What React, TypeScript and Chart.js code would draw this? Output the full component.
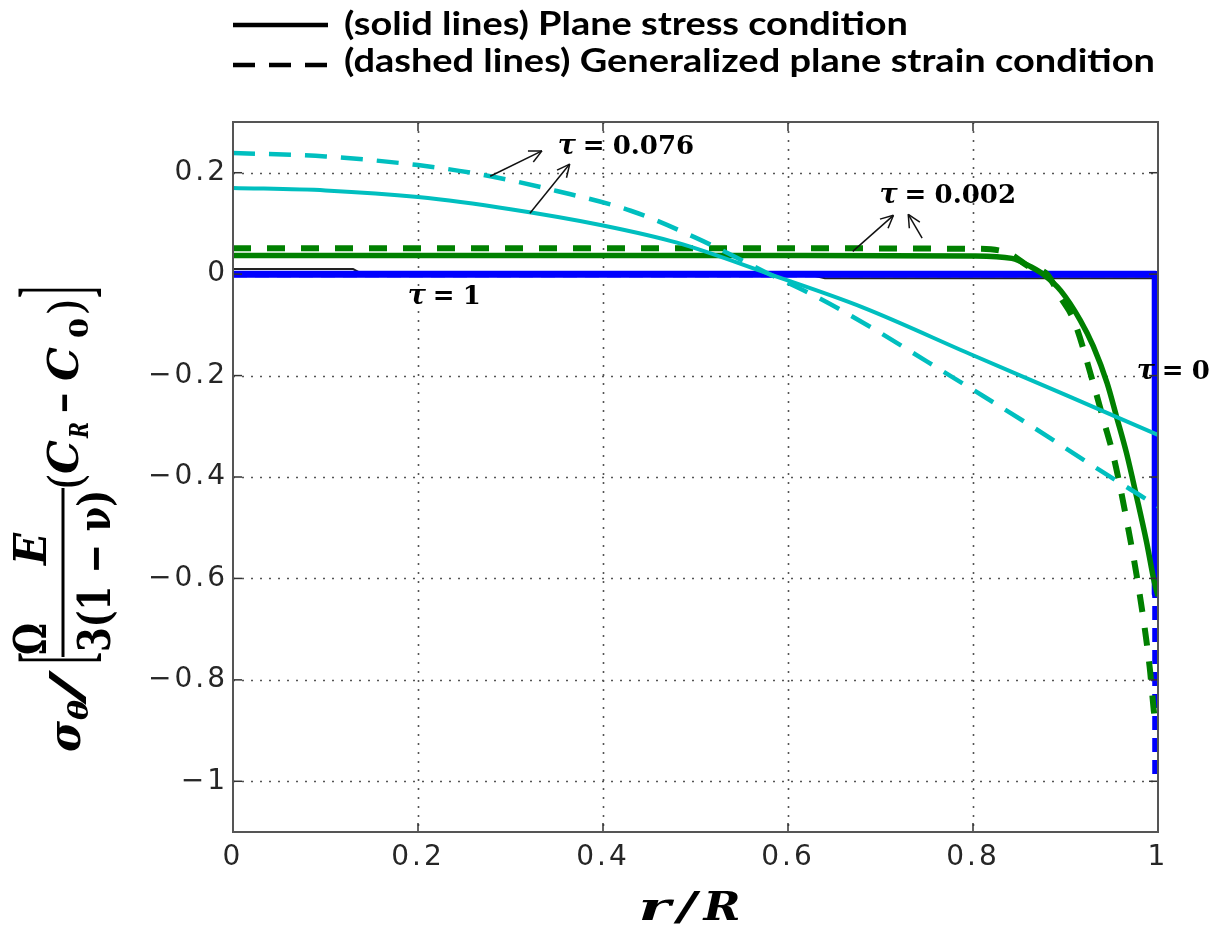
import React, { useEffect, useRef } from "react";
import { Chart, registerables } from "chart.js";

Chart.register(...registerables);

// ---------- data ----------
const xTicks = [0, 0.2, 0.4, 0.6, 0.8, 1];
const yTicks = [0.2, 0, -0.2, -0.4, -0.6, -0.8, -1];

// tau = 0.076, plane stress (solid cyan)
const cyanSolidX = [0, 0.1, 0.2, 0.3, 0.4, 0.48, 0.58, 0.68, 0.8, 0.9, 1.0];
const cyanSolidY = [0.17, 0.165, 0.152, 0.128, 0.096, 0.062, 0.0, -0.065, -0.16, -0.238, -0.317];

// tau = 0.076, generalized plane strain (dashed cyan)
const cyanDashX = [0, 0.1, 0.2, 0.27, 0.35, 0.43, 0.5, 0.58, 0.63, 0.69, 0.75, 0.8, 0.86, 0.94, 1.0];
const cyanDashY = [0.239, 0.232, 0.215, 0.196, 0.164, 0.125, 0.072, 0.0, -0.044, -0.105, -0.172, -0.228, -0.296, -0.39, -0.458];

// tau = 0.002, plane stress (solid green)
const greenSolidX = [0, 0.2, 0.4, 0.6, 0.8, 0.842, 0.863, 0.877, 0.895, 0.916, 0.93, 0.945, 0.955, 0.966, 0.977, 0.9875, 0.996, 1.0];
const greenSolidY = [0.037, 0.037, 0.037, 0.037, 0.036, 0.031, 0.014, -0.002, -0.033, -0.091, -0.142, -0.215, -0.28, -0.353, -0.44, -0.527, -0.607, -0.635];

// tau = 0.002, generalized plane strain (dashed green)
const greenDashX = [0, 0.2, 0.4, 0.6, 0.8, 0.835, 0.863, 0.88, 0.895, 0.909, 0.93, 0.941, 0.952, 0.966, 0.98, 0.991, 0.996, 0.998];
const greenDashY = [0.051, 0.051, 0.051, 0.051, 0.05, 0.044, 0.012, 0.0, -0.047, -0.091, -0.215, -0.287, -0.36, -0.484, -0.629, -0.775, -0.869, -0.89];

// tau = 0 (blue)
const blueSolidX = [0, 0.997, 0.997];
const blueSolidY = [0, 0, -0.63];
const blueDashX = [0, 0.997, 0.997];
const blueDashY = [0, 0, -1.0];

// tau = 1 (black)
const blackX = [0, 0.13, 0.14, 0.62, 0.64, 1.0];
const blackY = [0.01, 0.01, 0.0, 0.0, -0.008, -0.008];

// annotations (data coordinates)
const tauValues = ["0.076", "0.002", "1", "0"];
const tauX = [0.351, 0.699, 0.189, 0.977];
const tauY = [0.254, 0.158, -0.041, -0.189];

const arrowFromX = [0.278, 0.321, 0.67, 0.745];
const arrowFromY = [0.193, 0.12, 0.045, 0.071];
const arrowToX = [0.334, 0.364, 0.714, 0.73];
const arrowToY = [0.243, 0.217, 0.116, 0.118];

const legendLabels = [
  "(solid lines) Plane stress condition",
  "(dashed lines) Generalized plane strain condition",
];

// ---------- layout / style ----------
const W = 1228;
const H = 945;
const CYAN = "#00BFBF";
const GREEN = "#008000";
const BLUE = "#0000FF";
const SERIF = "'DejaVu Serif', serif";

const pts = (xs: number[], ys: number[]) => xs.map((x, i) => ({ x, y: ys[i] }));

const fmt = (v: any) => {
  const n = Number(v);
  const s = (a: number) => String(Math.round(a * 10) / 10);
  return n < 0 ? "\u2212" + s(-n) : s(n);
};

function seg(ctx: CanvasRenderingContext2D, x1: number, y1: number, x2: number, y2: number) {
  ctx.beginPath();
  ctx.moveTo(x1, y1);
  ctx.lineTo(x2, y2);
  ctx.stroke();
}

function fitText(ctx: CanvasRenderingContext2D, text: string, font: string, x: number, y: number, width: number) {
  ctx.save();
  ctx.font = font;
  const w = ctx.measureText(text).width;
  ctx.translate(x, y);
  ctx.scale(width / w, 1);
  ctx.fillText(text, 0, 0);
  ctx.restore();
}

function rotFit(ctx: CanvasRenderingContext2D, text: string, font: string, yBottom: number, yTop: number, baseX: number) {
  ctx.save();
  ctx.font = font;
  const w = ctx.measureText(text).width;
  ctx.translate(baseX, yBottom);
  ctx.rotate(-Math.PI / 2);
  ctx.scale((yBottom - yTop) / w, 1);
  ctx.fillText(text, 0, 0);
  ctx.restore();
}

// y-axis title pieces: text, font, bottom y, top y, baseline x
const yTitlePieces: [string, string, number, number, number][] = [
  ["σ", `italic bold 44px ${SERIF}`, 752, 721, 80],
  ["θ", `italic bold 28px ${SERIF}`, 720, 700, 88],
  ["/", `44px ${SERIF}`, 705, 670, 82],
  ["[", `100px 'Liberation Serif', serif`, 664, 652, 88],
  ["Ω", `bold 44px ${SERIF}`, 655, 623, 46],
  ["E", `italic bold 44px ${SERIF}`, 565, 533, 46],
  ["3(1 − ν)", `bold 44px ${SERIF}`, 652, 490, 110],
  ["(", `46px ${SERIF}`, 490, 473, 82],
  ["C", `italic bold 42px ${SERIF}`, 474, 440, 78],
  ["R", `italic bold 26px ${SERIF}`, 438, 422, 88],
  ["−", `bold 42px ${SERIF}`, 414, 392, 78],
  ["C", `italic bold 42px ${SERIF}`, 381, 347, 78],
  ["0", `bold 26px ${SERIF}`, 338, 318, 88],
  [")", `46px ${SERIF}`, 316, 298, 82],
  ["]", `100px 'Liberation Serif', serif`, 298, 286, 88],
];

const decorPlugin = {
  id: "decor",
  beforeDraw(chart: any) {
    chart.ctx.letterSpacing = "3px";
  },
  beforeDatasetsDraw(chart: any) {
    const ctx: CanvasRenderingContext2D = chart.ctx;
    (ctx as any).letterSpacing = "0px";
    const { left, right, top, bottom } = chart.chartArea;
    const xs = chart.scales.x;
    const ys = chart.scales.y;
    ctx.save();
    ctx.strokeStyle = "#555";
    ctx.lineWidth = 1.6;
    ctx.setLineDash([2, 7]);
    xTicks.forEach((v) => {
      if (v === xTicks[0] || v === xTicks[xTicks.length - 1]) return;
      const px = Math.round(xs.getPixelForValue(v)) + 0.5;
      seg(ctx, px, top, px, bottom);
    });
    yTicks.forEach((v) => {
      const py = Math.round(ys.getPixelForValue(v)) + 0.5;
      seg(ctx, left, py, right, py);
    });
    ctx.restore();
  },
  afterDatasetsDraw(chart: any) {
    const ctx: CanvasRenderingContext2D = chart.ctx;
    const { left, right, top, bottom } = chart.chartArea;
    const xs = chart.scales.x;
    const ys = chart.scales.y;
    ctx.save();
    ctx.setLineDash([]);
    ctx.strokeStyle = "#333";
    ctx.lineWidth = 1.5;
    const tl = 9;
    xTicks.forEach((v) => {
      const px = xs.getPixelForValue(v);
      seg(ctx, px, bottom, px, bottom - tl);
      seg(ctx, px, top, px, top + tl);
    });
    yTicks.forEach((v) => {
      const py = ys.getPixelForValue(v);
      seg(ctx, left, py, left + tl, py);
      seg(ctx, right, py, right - tl, py);
    });
    ctx.strokeStyle = "#555";
    ctx.lineWidth = 2;
    ctx.strokeRect(left, top, right - left, bottom - top);
    ctx.restore();
  },
  afterDraw(chart: any) {
    const ctx: CanvasRenderingContext2D = chart.ctx;
    (ctx as any).letterSpacing = "0px";
    const { left, right } = chart.chartArea;
    const xs = chart.scales.x;
    const ys = chart.scales.y;
    ctx.save();
    ctx.fillStyle = "#000";
    ctx.strokeStyle = "#000";
    ctx.textBaseline = "alphabetic";
    ctx.textAlign = "left";

    // legend (top)
    ctx.lineWidth = 4.5;
    ctx.setLineDash([]);
    seg(ctx, 233, 25, 328, 25);
    ctx.setLineDash([22, 14]);
    seg(ctx, 233, 65, 328, 65);
    ctx.setLineDash([]);
    fitText(ctx, legendLabels[0], "bold 33px Lato, sans-serif", 344, 35, 564);
    fitText(ctx, legendLabels[1], "bold 33px Lato, sans-serif", 344, 72, 811);

    // x-axis title
    const cx = (left + right) / 2;
    fitText(ctx, "r", `italic bold 40px ${SERIF}`, cx - 57, 920, 32);
    fitText(ctx, "/", `40px ${SERIF}`, cx - 22, 920, 27);
    fitText(ctx, "R", `italic bold 40px ${SERIF}`, cx + 8, 920, 37);

    // y-axis title
    yTitlePieces.forEach(([t, f, yb, yt, bx]) => rotFit(ctx, t, f, yb, yt, bx));
    ctx.lineWidth = 3;
    seg(ctx, 63, 657, 63, 488);

    // tau labels
    tauValues.forEach((val, i) => {
      const px = xs.getPixelForValue(tauX[i]);
      const py = ys.getPixelForValue(tauY[i]) + 9;
      ctx.font = `italic bold 27px ${SERIF}`;
      ctx.fillText("τ", px, py);
      ctx.font = `bold 26px ${SERIF}`;
      ctx.fillText("=", px + 25, py);
      ctx.fillText(val, px + 55, py);
    });

    // arrows
    ctx.strokeStyle = "#111";
    ctx.lineWidth = 1.5;
    arrowFromX.forEach((fx, i) => {
      const x1 = xs.getPixelForValue(fx);
      const y1 = ys.getPixelForValue(arrowFromY[i]);
      const x2 = xs.getPixelForValue(arrowToX[i]);
      const y2 = ys.getPixelForValue(arrowToY[i]);
      seg(ctx, x1, y1, x2, y2);
      const a = Math.atan2(y2 - y1, x2 - x1);
      const L = 14;
      const sp = 0.45;
      seg(ctx, x2, y2, x2 - L * Math.cos(a - sp), y2 - L * Math.sin(a - sp));
      seg(ctx, x2, y2, x2 - L * Math.cos(a + sp), y2 - L * Math.sin(a + sp));
    });
    ctx.restore();
  },
};

const lineDs = (label: string, xs: number[], ys: number[], color: string, width: number, dash: number[], smooth: boolean) => ({
  label,
  data: pts(xs, ys),
  borderColor: color,
  backgroundColor: color,
  borderWidth: width,
  borderDash: dash,
  borderCapStyle: "butt",
  borderJoinStyle: "round",
  pointRadius: 0,
  fill: false,
  tension: smooth ? 0.4 : 0,
  cubicInterpolationMode: smooth ? "monotone" : "default",
});

export default function App() {
  const ref = useRef<HTMLCanvasElement>(null);
  useEffect(() => {
    if (!ref.current) return;
    const chart = new Chart(ref.current, {
      type: "line",
      data: {
        datasets: [
          lineDs("tau=0.076 solid", cyanSolidX, cyanSolidY, CYAN, 4, [], true),
          lineDs("tau=0.076 dashed", cyanDashX, cyanDashY, CYAN, 4.5, [22, 14], true),
          lineDs("tau=0.002 solid", greenSolidX, greenSolidY, GREEN, 5.5, [], true),
          lineDs("tau=0.002 dashed", greenDashX, greenDashY, GREEN, 6, [18, 16], true),
          lineDs("tau=0 solid", blueSolidX, blueSolidY, BLUE, 7, [], false),
          lineDs("tau=0 dashed", blueDashX, blueDashY, BLUE, 6, [14, 8], false),
          lineDs("tau=1", blackX, blackY, "#222", 2, [], false),
        ] as any,
      },
      options: {
        animation: false,
        responsive: false,
        devicePixelRatio: 1,
        events: [],
        layout: { padding: { top: 122, right: 70, bottom: 0, left: 0 } },
        plugins: { legend: { display: false }, tooltip: { enabled: false } },
        scales: {
          x: {
            type: "linear",
            min: 0,
            max: 1,
            bounds: "data",
            grid: { display: false, drawTicks: false },
            border: { display: false },
            afterBuildTicks: (s: any) => {
              s.ticks = xTicks.map((v) => ({ value: v }));
            },
            afterFit: (s: any) => {
              s.height = 113;
            },
            ticks: {
              autoSkip: false,
              maxRotation: 0,
              padding: 9,
              color: "#262626",
              font: { family: "'DejaVu Sans', sans-serif", size: 28 },
              callback: fmt,
            },
          },
          y: {
            type: "linear",
            min: -1.1,
            max: 0.3,
            bounds: "data",
            grid: { display: false, drawTicks: false },
            border: { display: false },
            afterBuildTicks: (s: any) => {
              s.ticks = yTicks.map((v) => ({ value: v }));
            },
            afterFit: (s: any) => {
              s.width = 233;
            },
            ticks: {
              autoSkip: false,
              padding: 5,
              color: "#262626",
              font: { family: "'DejaVu Sans', sans-serif", size: 28 },
              callback: fmt,
            },
          },
        },
      } as any,
      plugins: [decorPlugin as any],
    });
    return () => chart.destroy();
  }, []);
  return (
    <div style={{ position: "absolute", left: 0, top: 0, width: W, height: H, background: "#fff" }}>
      <canvas ref={ref} width={W} height={H} style={{ display: "block", width: W, height: H }} />
    </div>
  );
}
